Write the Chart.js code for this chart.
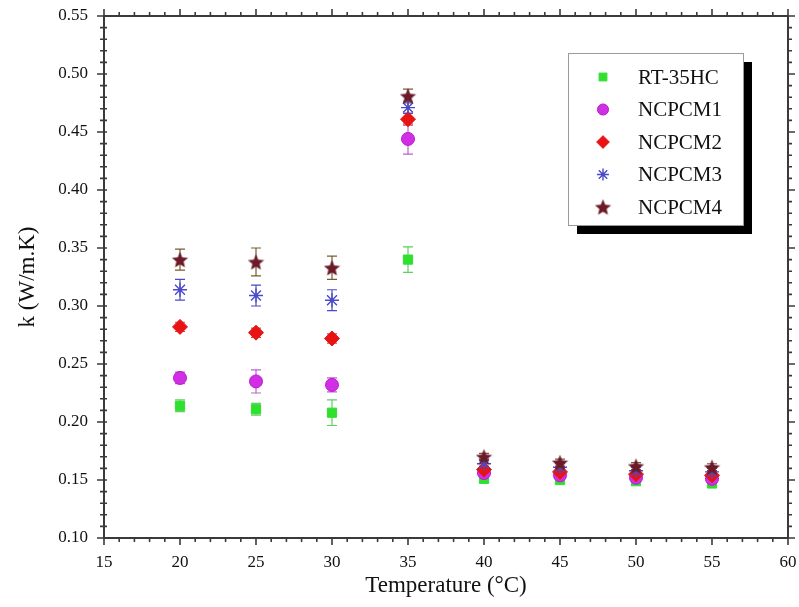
<!DOCTYPE html>
<html>
<head>
<meta charset="utf-8">
<script src="https://cdn.jsdelivr.net/npm/chart.js@4.4.1/dist/chart.umd.min.js"></script>
<style>
  html, body { margin:0; padding:0; background:#fff; }
  #wrap { width:799px; height:607px; }
</style>
</head>
<body>
<div id="wrap"><canvas id="c" width="799" height="607"></canvas></div>
<script>
// temperatures (°C) and conductivity k (W/m.K) with error half-widths
const temps = [20, 25, 30, 35, 40, 45, 50, 55];
const kRT   = [0.214, 0.211, 0.208, 0.340, 0.151, 0.150, 0.149, 0.147];
const errRT = [0.005, 0.005, 0.011, 0.011, 0.003, 0.003, 0.003, 0.003];
const kN1   = [0.238, 0.235, 0.232, 0.444, 0.156, 0.154, 0.152, 0.151];
const errN1 = [0.005, 0.010, 0.006, 0.013, 0.004, 0.004, 0.004, 0.004];
const kN2   = [0.282, 0.277, 0.272, 0.461, 0.159, 0.157, 0.155, 0.154];
const errN2 = [0.004, 0.004, 0.004, 0.005, 0.003, 0.003, 0.003, 0.003];
const kN3   = [0.314, 0.309, 0.305, 0.471, 0.164, 0.161, 0.158, 0.157];
const errN3 = [0.009, 0.009, 0.009, 0.005, 0.003, 0.003, 0.003, 0.003];
const kN4   = [0.340, 0.338, 0.333, 0.481, 0.170, 0.165, 0.162, 0.161];
const errN4 = [0.009, 0.012, 0.010, 0.006, 0.003, 0.003, 0.003, 0.003];

const seriesNames = ['RT-35HC', 'NCPCM1', 'NCPCM2', 'NCPCM3', 'NCPCM4'];
const xTicksMajor = [15, 20, 25, 30, 35, 40, 45, 50, 55, 60];
const yTicksMajor = [0.10, 0.15, 0.20, 0.25, 0.30, 0.35, 0.40, 0.45, 0.50, 0.55];

const SERIF = "'Liberation Serif', 'Times New Roman', serif";

// filled 5-point star for NCPCM4
function starImg(color, size) {
  const c = document.createElement('canvas');
  c.width = size; c.height = size;
  const g = c.getContext('2d');
  const cx = size/2, cy = size/2 + 0.8, R = size/2, r = R*0.45;
  g.beginPath();
  for (let i = 0; i < 10; i++) {
    const a = -Math.PI/2 + i*Math.PI/5;
    const rad = i % 2 ? r : R;
    g.lineTo(cx + rad*Math.cos(a), cy + rad*Math.sin(a));
  }
  g.closePath();
  g.fillStyle = color; g.fill();
  return c;
}
const star = starImg('#6b1a28', 17);

function pts(ys, es) { return temps.map((t, i) => ({ x: t, y: ys[i], e: es[i] })); }

const datasets = [
  { label: seriesNames[0], data: pts(kRT, errRT), pointStyle: 'rect', pointRadius: 6.5,
    backgroundColor: '#2fe02f', borderColor: '#2fe02f', errColor: '#5fcf5f', order: 5 },
  { label: seriesNames[1], data: pts(kN1, errN1), pointStyle: 'circle', pointRadius: 6.5,
    backgroundColor: '#d22ee6', borderColor: '#b81ccc', errColor: '#c060d0', order: 4 },
  { label: seriesNames[2], data: pts(kN2, errN2), pointStyle: 'rectRot', pointRadius: 7.5,
    backgroundColor: '#e81414', borderColor: '#e81414', errColor: '#d05050', order: 3 },
  { label: seriesNames[3], data: pts(kN3, errN3), pointStyle: 'star', pointRadius: 7,
    backgroundColor: '#5656cc', borderColor: '#4a4ac8', pointBorderWidth: 1.4, errColor: '#4a4ac8', order: 2 },
  { label: seriesNames[4], data: pts(kN4, errN4), pointStyle: star, pointRadius: 8,
    backgroundColor: '#6b1a28', borderColor: '#6b1a28', errColor: '#7a5a30', order: 1 },
];

const errorBars = {
  id: 'errorBars',
  beforeDatasetsDraw(chart) {
    const { ctx, scales: { x, y } } = chart;
    ctx.save();
    ctx.lineWidth = 1.2;
    chart.data.datasets.forEach(ds => {
      ctx.strokeStyle = ds.errColor;
      ds.data.forEach(p => {
        const px = x.getPixelForValue(p.x);
        const y1 = y.getPixelForValue(p.y + p.e), y2 = y.getPixelForValue(p.y - p.e);
        ctx.beginPath();
        ctx.moveTo(px, y1); ctx.lineTo(px, y2);
        ctx.moveTo(px - 5, y1); ctx.lineTo(px + 5, y1);
        ctx.moveTo(px - 5, y2); ctx.lineTo(px + 5, y2);
        ctx.stroke();
      });
    });
    ctx.restore();
  }
};

const frame = {
  id: 'frame',
  afterDraw(chart) {
    const { ctx, chartArea: a, scales: { x, y } } = chart;
    ctx.save();
    ctx.strokeStyle = '#3a3a3a';
    ctx.lineWidth = 2;
    ctx.strokeRect(a.left, a.top, a.right - a.left, a.bottom - a.top);
    ctx.lineWidth = 1.6;
    ctx.beginPath();
    x.ticks.forEach(t => {
      const px = x.getPixelForValue(t.value);
      const L = t.label ? 7 : 4;
      ctx.moveTo(px, a.bottom); ctx.lineTo(px, a.bottom + L);
      ctx.moveTo(px, a.top); ctx.lineTo(px, a.top - L);
    });
    y.ticks.forEach(t => {
      const py = y.getPixelForValue(t.value);
      const L = t.label ? 7 : 4;
      ctx.moveTo(a.left - L, py); ctx.lineTo(a.left + 3, py);
      ctx.moveTo(a.right, py); ctx.lineTo(a.right + L, py);
    });
    ctx.stroke();
    ctx.restore();
  }
};

const boxLegend = {
  id: 'boxLegend',
  afterDraw(chart) {
    const ctx = chart.ctx;
    const L = 568, T = 53, W = 175, H = 172, S = 9;
    ctx.save();
    ctx.fillStyle = '#000';
    ctx.fillRect(L + S, T + S, W, H);
    ctx.fillStyle = '#fff';
    ctx.fillRect(L, T, W, H);
    ctx.strokeStyle = '#9a9a9a';
    ctx.lineWidth = 1;
    ctx.strokeRect(L + 0.5, T + 0.5, W, H);
    ctx.font = '21px ' + SERIF;
    ctx.textBaseline = 'middle';
    chart.data.datasets.forEach((ds, i) => {
      const cy = T + 24 + i * 32.5;
      ctx.fillStyle = ds.backgroundColor;
      ctx.strokeStyle = ds.borderColor;
      ctx.lineWidth = ds.pointBorderWidth || 1;
      Chart.helpers.drawPoint(ctx, { pointStyle: ds.pointStyle, radius: ds.pointRadius * 0.85, rotation: 0, borderWidth: ctx.lineWidth }, L + 35, cy);
      ctx.fillStyle = '#111';
      ctx.fillText(ds.label, L + 70, cy + 1);
    });
    ctx.restore();
  }
};

new Chart(document.getElementById('c'), {
  type: 'scatter',
  data: { datasets },
  options: {
    responsive: false,
    animation: false,
    layout: { padding: { top: 16, right: 11, left: 0, bottom: 0 } },
    plugins: { legend: { display: false }, tooltip: { enabled: false } },
    elements: { point: { borderWidth: 1 } },
    scales: {
      x: {
        type: 'linear', min: 15, max: 60,
        grid: { display: false, drawTicks: false },
        border: { display: false },
        ticks: {
          stepSize: 1, autoSkip: false, maxRotation: 0, padding: 14,
          color: '#111', font: { family: SERIF, size: 17 },
          callback: v => xTicksMajor.includes(v) ? String(v) : ''
        },
        title: { display: true, text: 'Temperature (°C)', color: '#111',
                 font: { family: SERIF, size: 23 }, padding: { top: 0, bottom: 7 } },
        afterFit: s => { s.height = 69; s.paddingLeft = 0; s.paddingRight = 0; }
      },
      y: {
        type: 'linear', min: 0.10, max: 0.55,
        grid: { display: false, drawTicks: false },
        border: { display: false },
        ticks: {
          stepSize: 0.01, autoSkip: false, padding: 16,
          color: '#111', font: { family: SERIF, size: 17 },
          callback: v => yTicksMajor.some(m => Math.abs(m - v) < 1e-6) ? v.toFixed(2) : ''
        },
        title: { display: true, text: 'k (W/m.K)', color: '#111',
                 font: { family: SERIF, size: 23 }, padding: { top: 14, bottom: 14 } },
        afterFit: s => { s.width = 104; s.paddingTop = 0; s.paddingBottom = 0; }
      }
    }
  },
  plugins: [errorBars, frame, boxLegend]
});
</script>
</body>
</html>
